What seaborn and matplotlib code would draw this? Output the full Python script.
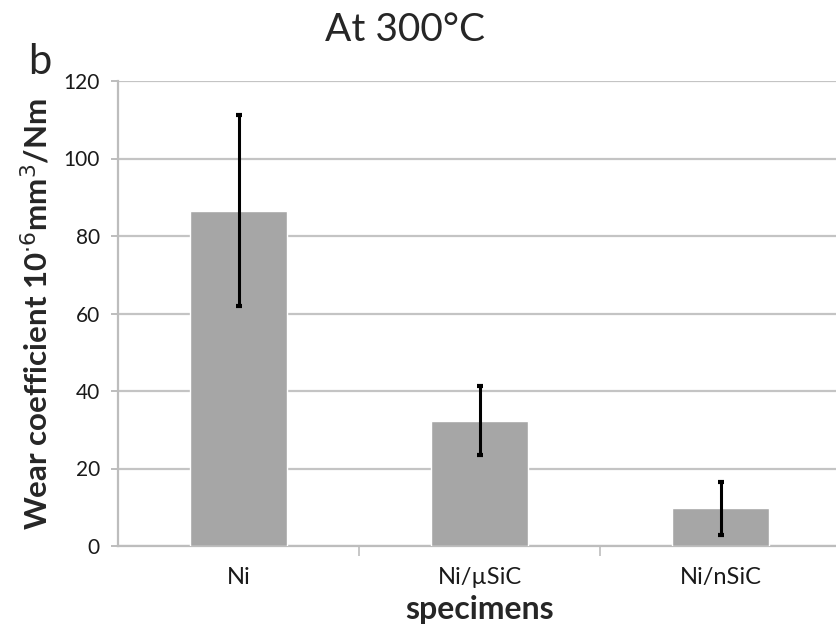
import matplotlib
matplotlib.use("Agg")
import matplotlib.pyplot as plt
import seaborn as sns
import pandas as pd
import numpy as np

categories = ["Ni", "Ni/\u00b5SiC", "Ni/nSiC"]
wear = [86.5, 32.3, 9.7]
wear_err = [24.6, 8.9, 6.9]
yticks = [0, 20, 40, 60, 80, 100, 120]

sns.set_theme(style="white")
plt.rcParams['font.family'] = ['Lato', 'DejaVu Sans']

df = pd.DataFrame({"specimens": categories, "wear": wear})

fig = plt.figure(figsize=(8.36, 6.27), dpi=100)
ax = fig.add_axes([118/836, 1-546/627, (841-118)/836, (546-81)/627])

sns.barplot(data=df, x="specimens", y="wear", color="#a6a6a6", saturation=1,
            width=0.4, ax=ax, errorbar=None, zorder=3)
ax.errorbar(np.arange(len(categories)), wear, yerr=wear_err, fmt="none",
            ecolor="black", elinewidth=2.2, capsize=2.5, capthick=3, zorder=4)

ax.set_ylim(0, 120)
ax.set_xlim(-0.5, 2.5)
ax.set_yticks(yticks)
ax.yaxis.grid(True, color="#c4c4c4", linewidth=1.6, zorder=0)
ax.set_axisbelow(True)
for s in ["top", "right"]:
    ax.spines[s].set_visible(False)
for s in ["left", "bottom"]:
    ax.spines[s].set_color("#bdbdbd")
    ax.spines[s].set_linewidth(1.6)

ax.tick_params(axis="y", which="major", left=True, length=5, width=1.4,
               color="#bdbdbd", labelsize=15, pad=8, labelcolor="#1a1a1a")
ax.set_xticks(range(len(categories)))
ax.set_xticklabels(categories)
ax.tick_params(axis="x", which="major", bottom=False, labelsize=17, pad=9,
               labelcolor="#1a1a1a")
ax.set_xticks([0.5, 1.5], minor=True)
ax.tick_params(axis="x", which="minor", bottom=True, length=7, width=1.2,
               color="#bdbdbd")

ax.set_xlabel("specimens", fontsize=23, fontweight="bold", labelpad=5)
ax.set_ylabel("Wear coefficient 10$^{\\cdot6}$mm$^3$/Nm", fontsize=22.5,
              fontweight="bold", labelpad=8)

fig.text(405/836, 1-30/627, "At 300\u00b0C", fontsize=28, ha="center", va="center")
fig.text(40/836, 1-62/627, "b", fontsize=30, ha="center", va="center")

fig.savefig("out.png", dpi=100)
